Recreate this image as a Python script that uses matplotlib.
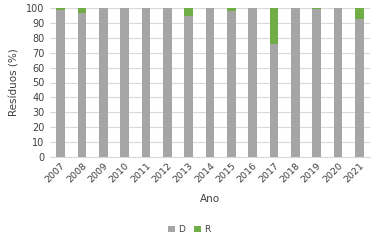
import matplotlib.pyplot as plt
import numpy as np

years = ['2007', '2008', '2009', '2010', '2011', '2012', '2013', '2014',
         '2015', '2016', '2017', '2018', '2019', '2020', '2021']
d_vals = [98.5, 96.5, 100, 100, 100, 100, 94.5, 100, 98, 100, 76, 100, 99, 100, 92.5]
r_vals = [100 - v for v in d_vals]

fig = plt.figure(figsize=(3.79, 2.42), dpi=100)
ax = fig.add_axes([50 / 379, 1 - 157 / 242, 320 / 379, 149 / 242])

x = np.arange(len(years))
ax.bar(x, d_vals, width=0.4, color='#A5A5A5', label='D', zorder=3)
ax.bar(x, r_vals, width=0.4, bottom=d_vals, color='#70AD47', label='R', zorder=3)

ax.set_xlim(-0.5, len(years) - 0.5)
ax.set_ylim(0, 100)
ax.set_yticks(range(0, 101, 10))
ax.tick_params(axis='y', labelsize=7, length=0, pad=4, colors='#404040')
ax.set_xticks(x)
ax.set_xticklabels(years, rotation=45, ha='right', rotation_mode='anchor', fontsize=6.8, color='#404040')
ax.tick_params(axis='x', length=0, pad=3)
ax.grid(axis='y', color='#D9D9D9', linewidth=0.8, zorder=0)
for s in ['top', 'right', 'left']:
    ax.spines[s].set_visible(False)
ax.spines['bottom'].set_color('#D9D9D9')

ax.set_ylabel('Resíduos (%)', fontsize=7.5, color='#404040', labelpad=5)
ax.set_xlabel('Ano', fontsize=7.5, color='#404040', labelpad=7)

fig.legend(loc='lower center', bbox_to_anchor=(0.5, 0.0), ncol=2, frameon=False,
           fontsize=6.5, handlelength=0.7, handleheight=0.7, handletextpad=0.4,
           columnspacing=1.0, labelcolor='#404040')

fig.savefig('out.png', dpi=100)
